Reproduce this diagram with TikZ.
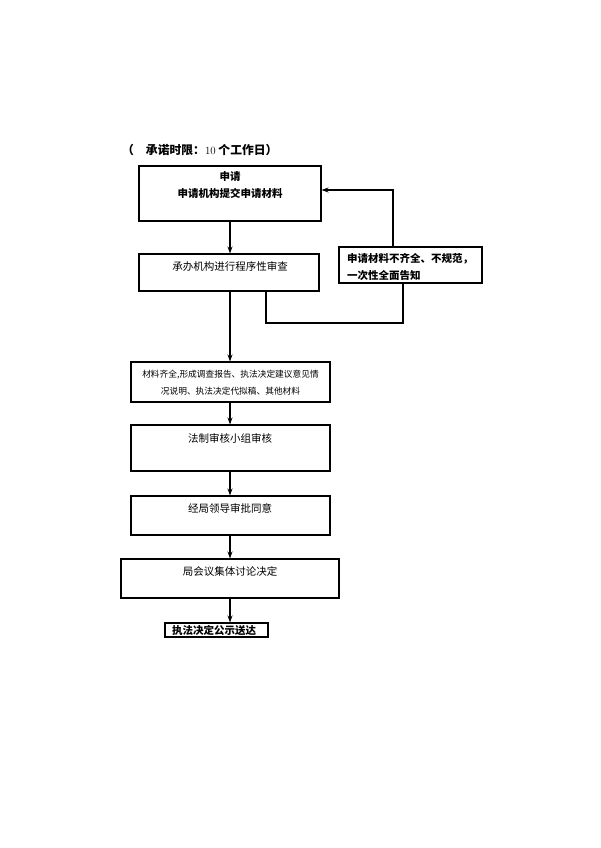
\documentclass[tikz,border=0pt]{standalone}
\usepackage{fontspec}
\newfontfamily\cjk{Noto Sans CJK SC}
\usetikzlibrary{arrows.meta}
\tikzset{
  box/.style={draw=black, line width=1.1pt, rectangle, inner sep=0pt},
  txt/.style={font=\cjk\fontsize{10.5}{12}\selectfont, inner sep=0pt},
  btxt/.style={font=\cjk\bfseries\fontsize{10.5}{12}\selectfont, inner sep=0pt},
  flow/.style={line width=1.1pt, -{Stealth[length=7pt,width=5pt]}},
  ln/.style={line width=1.1pt}
}
\begin{document}
\begin{tikzpicture}[x=1pt,y=-1pt]
\useasboundingbox (0,0) rectangle (600,848);
% title
\node[btxt, font=\cjk\bfseries\fontsize{11.8}{13}\selectfont, anchor=west] (title) at (122,150) {（\hspace{12pt}承诺时限：{\rmfamily\mdseries\fontsize{11}{13}\selectfont 10} 个工作日）};
% boxes
\node[box, minimum width=182pt, minimum height=55pt] (b1) at (230,193.5) {};
\node[box, minimum width=180pt, minimum height=37pt] (b2) at (229,272.5) {};
\node[box, minimum width=143pt, minimum height=36pt] (r) at (410.5,265) {};
\node[box, minimum width=199pt, minimum height=40pt] (b3) at (230.5,382) {};
\node[box, minimum width=199pt, minimum height=46pt] (b4) at (230.5,448) {};
\node[box, minimum width=199pt, minimum height=39pt] (b5) at (230.5,515.5) {};
\node[box, minimum width=218pt, minimum height=39pt] (b6) at (230,578.5) {};
\node[box, minimum width=103pt, minimum height=14pt] (b7) at (216.5,630) {};
% texts
\node[btxt] (t1a) at (230,177) {申请};
\node[btxt] (t1b) at (230,193) {申请机构提交申请材料};
\node[txt] (t2) at (230,266) {承办机构进行程序性审查};
\node[btxt, anchor=west] (tr1) at (347,259) {申请材料不齐全、不规范，};
\node[btxt, anchor=west] (tr2) at (347,276) {一次性全面告知};
\node[txt, font=\cjk\fontsize{8.7}{10}\selectfont] (t3a) at (230.5,375) {材料齐全,形成调查报告、执法决定建议意见情};
\node[txt, font=\cjk\fontsize{8.7}{10}\selectfont] (t3b) at (230.5,391) {况说明、执法决定代拟稿、其他材料};
\node[txt] (t4) at (230,438) {法制审核小组审核};
\node[txt] (t5) at (230,508) {经局领导审批同意};
\node[txt] (t6) at (230,572) {局会议集体讨论决定};
\node[btxt] (t7) at (214,630) {执法决定公示送达};
% connectors
\coordinate (a1) at (230,221);
\draw[flow] (a1) -- (a1 |- b2.north);
\coordinate (a2) at (230,291);
\draw[flow] (a2) -- (a2 |- b3.north);
\draw[flow] (b3.south -| a2) -- (b4.north -| a2);
\draw[flow] (b4.south -| a2) -- (b5.north -| a2);
\draw[flow] (b5.south -| a2) -- (b6.north -| a2);
\draw[flow] (b6.south -| a2) -- (b7.north -| a2);
% feedback
\coordinate (f1) at (393,247);
\coordinate (f2) at (393,190);
\draw[flow] (f1) -- (f2) -- (f2 -| b1.east);
% loop from box 2 to right box
\coordinate (l1) at (266,291);
\coordinate (l2) at (266,323);
\coordinate (l3) at (403,323);
\draw[ln] (l1) -- (l2) -- (l3) -- (l3 |- r.south);
\end{tikzpicture}
\end{document}
